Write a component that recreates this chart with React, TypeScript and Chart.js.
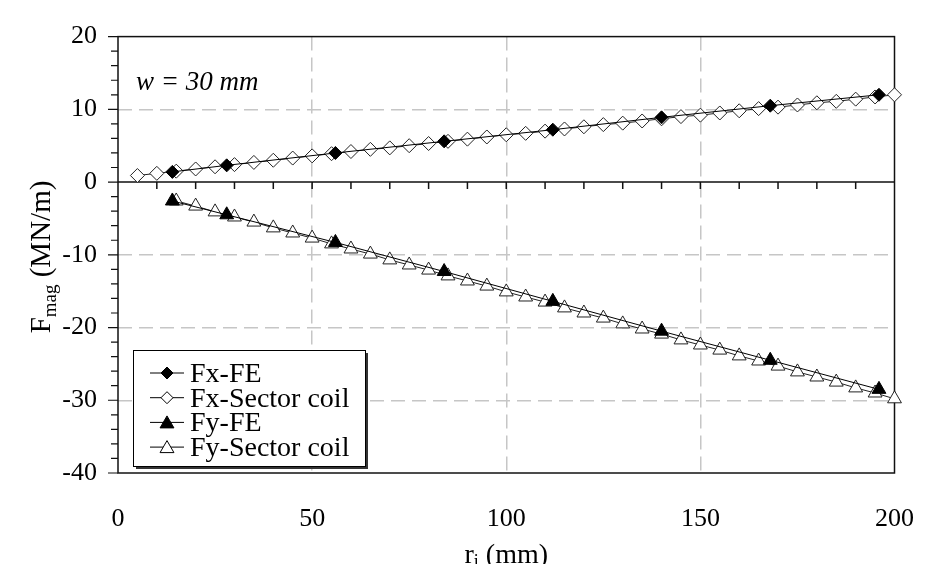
import React, { useEffect, useRef } from "react";
import { Chart, registerables } from "chart.js";

Chart.register(...registerables);

// Radial position r_i (mm) of the FE samples and the sector-coil sweeps
const rFE = [14, 28, 56, 84, 112, 140, 168, 196];
const fxFE = [1.4, 2.3, 4.0, 5.6, 7.2, 8.9, 10.5, 12.0];
const fyFE = [-2.6, -4.5, -8.3, -12.3, -16.4, -20.5, -24.5, -28.5];

const rSectorX = [
  5, 10, 15, 20, 25, 30, 35, 40, 45, 50, 55, 60, 65, 70, 75, 80, 85, 90, 95, 100,
  105, 110, 115, 120, 125, 130, 135, 140, 145, 150, 155, 160, 165, 170, 175, 180, 185, 190, 195, 200,
];
const fxSector = [
  0.9, 1.2, 1.5, 1.8, 2.1, 2.4, 2.7, 3.0, 3.3, 3.6, 3.9, 4.2, 4.5, 4.7, 5.0, 5.3, 5.6, 5.9, 6.2, 6.5,
  6.7, 7.0, 7.3, 7.6, 7.9, 8.1, 8.4, 8.7, 9.0, 9.2, 9.5, 9.8, 10.1, 10.3, 10.6, 10.9, 11.1, 11.4, 11.7, 12.0,
];

const rSectorY = [
  15, 20, 25, 30, 35, 40, 45, 50, 55, 60, 65, 70, 75, 80, 85, 90, 95, 100,
  105, 110, 115, 120, 125, 130, 135, 140, 145, 150, 155, 160, 165, 170, 175, 180, 185, 190, 195, 200,
];
const fySector = [
  -2.6, -3.3, -4.1, -4.8, -5.5, -6.3, -7.0, -7.7, -8.5, -9.2, -9.9, -10.7, -11.4, -12.1, -12.9, -13.6, -14.3, -15.1,
  -15.8, -16.5, -17.3, -18.0, -18.7, -19.5, -20.2, -20.9, -21.7, -22.4, -23.1, -23.9, -24.6, -25.3, -26.1, -26.8, -27.5, -28.3, -29.0, -29.8,
];

// Axis ranges and ticks
const xMin = 0;
const xMax = 200;
const xMajor = 50;
const xMinor = 10;
const yMin = -40;
const yMax = 20;
const yMajor = 10;
const yMinor = 2;

const seriesNames = ["Fx-FE", "Fx-Sector coil", "Fy-FE", "Fy-Sector coil"];
const widthNote = "w = 30 mm";

const SERIF = '"Liberation Serif"';
const GRID = "#c6c6c6";

const pts = (xs: number[], ys: number[]) => xs.map((x, i) => ({ x, y: ys[i] }));

function drawMarker(ctx: CanvasRenderingContext2D, kind: string, filled: boolean, x: number, y: number, r: number) {
  ctx.beginPath();
  if (kind === "diamond") {
    ctx.moveTo(x, y - r);
    ctx.lineTo(x + r, y);
    ctx.lineTo(x, y + r);
    ctx.lineTo(x - r, y);
  } else {
    const h = r * Math.sqrt(3) / 2;
    ctx.moveTo(x, y - r);
    ctx.lineTo(x + h, y + r / 2);
    ctx.lineTo(x - h, y + r / 2);
  }
  ctx.closePath();
  ctx.fillStyle = filled ? "#000" : "#fff";
  ctx.fill();
  ctx.lineWidth = 1;
  ctx.strokeStyle = "#000";
  ctx.stroke();
}

const decorPlugin = {
  id: "decor",
  beforeDatasetsDraw(chart: any) {
    const { ctx, chartArea: a, scales } = chart;
    const x = scales.x;
    const y = scales.y;
    ctx.save();
    ctx.strokeStyle = "#111";
    ctx.lineWidth = 1.5;

    // zero line with downward minor ticks
    const y0 = y.getPixelForValue(0);
    ctx.beginPath();
    ctx.moveTo(a.left, y0);
    ctx.lineTo(a.right, y0);
    for (let v = xMin + xMinor; v < xMax; v += xMinor) {
      const px = x.getPixelForValue(v);
      ctx.moveTo(px, y0);
      ctx.lineTo(px, y0 + 7);
    }
    ctx.stroke();

    // left axis ticks
    ctx.lineWidth = 1.2;
    ctx.beginPath();
    for (let v = yMin; v <= yMax; v += yMinor) {
      const py = y.getPixelForValue(v);
      const len = v % yMajor === 0 ? 10 : 7;
      ctx.moveTo(a.left - len, py);
      ctx.lineTo(a.left, py);
    }
    ctx.stroke();

    // plot frame
    ctx.lineWidth = 1.5;
    ctx.strokeRect(a.left, a.top, a.right - a.left, a.bottom - a.top);
    ctx.restore();
  },
  afterDraw(chart: any) {
    const { ctx, chartArea: a } = chart;
    ctx.save();

    // width note
    ctx.fillStyle = "#000";
    ctx.font = `italic 27px ${SERIF}`;
    ctx.textAlign = "left";
    ctx.textBaseline = "alphabetic";
    ctx.fillText(widthNote, a.left + 18, a.top + 53);

    // legend box with drop shadow
    const bx = a.left + 15;
    const by = 350;
    const bw = 232;
    const bh = 116;
    ctx.fillStyle = "#333";
    ctx.fillRect(bx + 3, by + 3, bw, bh);
    ctx.fillStyle = "#fff";
    ctx.fillRect(bx, by, bw, bh);
    ctx.strokeStyle = "#000";
    ctx.lineWidth = 1;
    ctx.strokeRect(bx + 0.5, by + 0.5, bw, bh);

    const kinds = ["diamond", "diamond", "triangle", "triangle"];
    const fills = [true, false, true, false];
    const sizes = [6, 6, 8, 8];
    ctx.font = `28px ${SERIF}`;
    seriesNames.forEach((name, i) => {
      const baseline = by + 32 + i * 24.7;
      const cy = baseline - 9;
      ctx.strokeStyle = "#000";
      ctx.lineWidth = 1;
      ctx.beginPath();
      ctx.moveTo(bx + 17, cy);
      ctx.lineTo(bx + 51, cy);
      ctx.stroke();
      drawMarker(ctx, kinds[i], fills[i], bx + 34, cy + (kinds[i] === "triangle" ? 1.5 : 0), sizes[i]);
      ctx.fillStyle = "#000";
      ctx.textAlign = "left";
      ctx.textBaseline = "alphabetic";
      ctx.fillText(name, bx + 57, baseline);
    });

    // x axis title: r_i (mm)
    let big = `28px ${SERIF}`;
    let small = `18px ${SERIF}`;
    ctx.fillStyle = "#000";
    ctx.textAlign = "left";
    ctx.textBaseline = "alphabetic";
    ctx.font = big;
    const wr = ctx.measureText("r").width;
    const wt = ctx.measureText(" (mm)").width;
    ctx.font = small;
    const wi = ctx.measureText("i").width;
    const cx = (a.left + a.right) / 2;
    let sx = cx - (wr + wi + wt) / 2;
    const base = 563;
    ctx.font = big;
    ctx.fillText("r", sx, base);
    ctx.font = small;
    ctx.fillText("i", sx + wr, base + 4);
    ctx.font = big;
    ctx.fillText(" (mm)", sx + wr + wi, base);

    // y axis title: F_mag (MN/m), rotated
    big = `29px ${SERIF}`;
    small = `19px ${SERIF}`;
    ctx.save();
    ctx.translate(50, 257);
    ctx.rotate(-Math.PI / 2);
    ctx.font = big;
    const wF = ctx.measureText("F").width;
    const wU = ctx.measureText(" (MN/m)").width;
    ctx.font = small;
    const wS = ctx.measureText("mag").width;
    sx = -(wF + wS + wU) / 2;
    ctx.font = big;
    ctx.fillText("F", sx, 0);
    ctx.font = small;
    ctx.fillText("mag", sx + wF, 6);
    ctx.font = big;
    ctx.fillText(" (MN/m)", sx + wF + wS, 0);
    ctx.restore();

    ctx.restore();
  },
};

export default function App() {
  const canvasRef = useRef<HTMLCanvasElement | null>(null);

  useEffect(() => {
    const canvas = canvasRef.current;
    if (!canvas) return;
    canvas.getContext("2d", { willReadFrequently: true });
    const line = { borderColor: "#000", borderWidth: 1, tension: 0, clip: false as const };
    const chart = new Chart(canvas, {
      type: "scatter",
      data: {
        datasets: [
          {
            label: seriesNames[0],
            data: pts(rFE, fxFE),
            showLine: true,
            ...line,
            pointStyle: "rectRot",
            pointRadius: 6.5,
            pointBackgroundColor: "#000",
            pointBorderColor: "#000",
            pointBorderWidth: 1,
          },
          {
            label: seriesNames[2],
            data: pts(rFE, fyFE),
            showLine: true,
            ...line,
            pointStyle: "triangle",
            pointRadius: 8,
            pointBackgroundColor: "#000",
            pointBorderColor: "#000",
            pointBorderWidth: 1,
          },
          {
            label: seriesNames[1],
            data: pts(rSectorX, fxSector),
            showLine: true,
            ...line,
            borderColor: "#222",
            pointStyle: "rectRot",
            pointRadius: 7,
            pointBackgroundColor: "#fff",
            pointBorderColor: "#222",
            pointBorderWidth: 1,
          },
          {
            label: seriesNames[3],
            data: pts(rSectorY, fySector),
            showLine: true,
            ...line,
            borderColor: "#222",
            pointStyle: "triangle",
            pointRadius: 8,
            pointBackgroundColor: "#fff",
            pointBorderColor: "#222",
            pointBorderWidth: 1,
          },
        ],
      },
      options: {
        responsive: false,
        animation: false,
        layout: { padding: { top: 14, right: 23, left: 0, bottom: 0 } },
        plugins: { legend: { display: false }, tooltip: { enabled: false } },
        scales: {
          x: {
            type: "linear",
            min: xMin,
            max: xMax,
            afterFit: (s: any) => {
              s.height = 99;
            },
            ticks: {
              stepSize: xMajor,
              color: "#000",
              font: { family: SERIF, size: 26 },
              padding: 31,
              maxRotation: 0,
            },
            grid: {
              drawTicks: false,
              lineWidth: 1.5,
              color: (c: any) =>
                c.tick && c.tick.value > xMin && c.tick.value < xMax ? GRID : "rgba(0,0,0,0)",
            },
            border: { display: false, dash: [14, 7] },
          },
          y: {
            type: "linear",
            min: yMin,
            max: yMax,
            afterFit: (s: any) => {
              s.width = 118;
            },
            ticks: {
              stepSize: yMinor,
              autoSkip: false,
              color: "#000",
              font: { family: SERIF, size: 26 },
              padding: 21,
              callback: (v: any) => (Number(v) % yMajor === 0 ? String(v) : ""),
            },
            grid: {
              drawTicks: false,
              lineWidth: 1.5,
              color: (c: any) => {
                const v = c.tick ? c.tick.value : NaN;
                return v % yMajor === 0 && v !== 0 && v > yMin && v < yMax ? GRID : "rgba(0,0,0,0)";
              },
            },
            border: { display: false, dash: [14, 7] },
          },
        },
      },
      plugins: [decorPlugin],
    });

    const t = setTimeout(() => chart.update(), 300);
    return () => {
      clearTimeout(t);
      chart.destroy();
    };
  }, []);

  // negative margins cancel the body margin so the canvas sits at the page origin
  return (
    <div style={{ margin: -8, width: 945, height: 572 }}>
      <canvas ref={canvasRef} width={945} height={572} style={{ display: "block" }} />
    </div>
  );
}
